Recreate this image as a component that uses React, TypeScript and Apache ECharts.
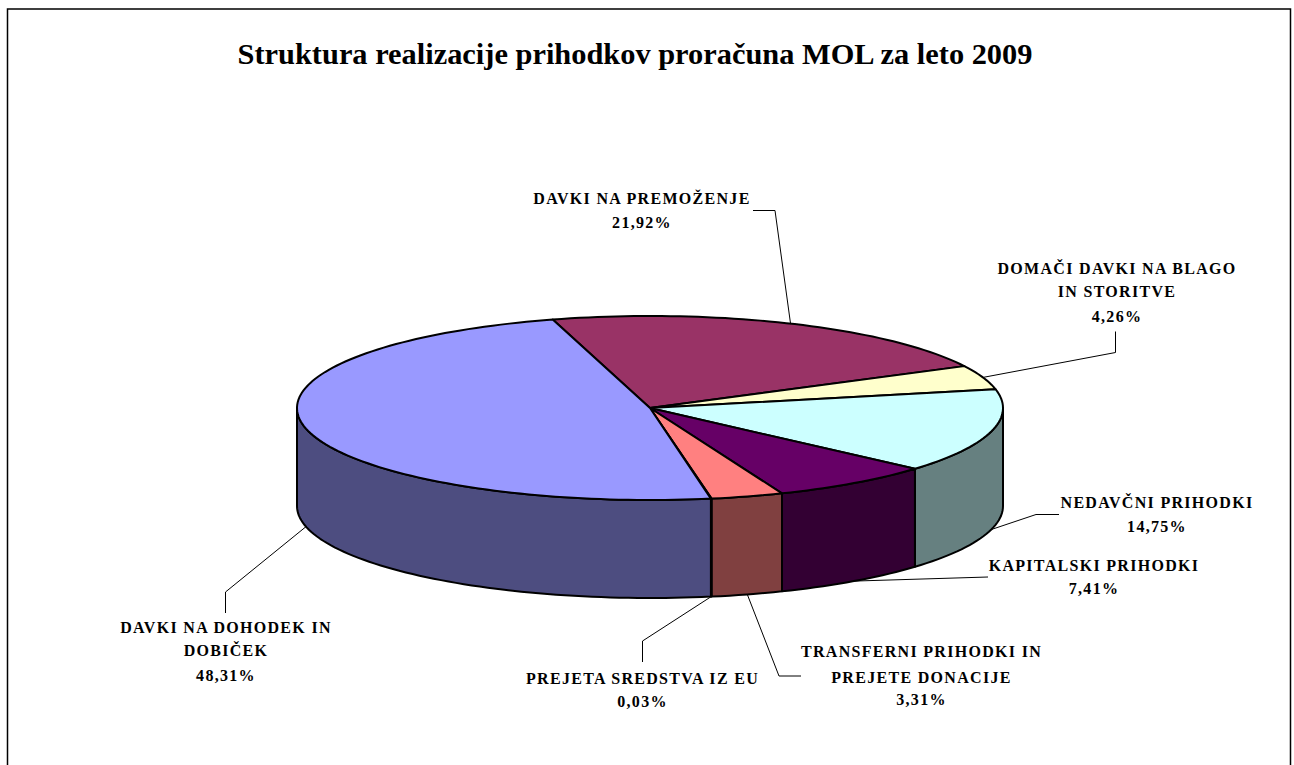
import React, { useEffect, useRef } from "react";
import * as echarts from "echarts";

const chartTitle = "Struktura realizacije prihodkov proračuna MOL za leto 2009";
const categories = [
  "DAVKI NA PREMOŽENJE",
  "DOMAČI DAVKI NA BLAGO\nIN STORITVE",
  "NEDAVČNI PRIHODKI",
  "KAPITALSKI PRIHODKI",
  "TRANSFERNI PRIHODKI IN\nPREJETE DONACIJE",
  "PREJETA SREDSTVA IZ EU",
  "DAVKI NA DOHODEK IN\nDOBIČEK",
];
const shares = [21.92, 4.26, 14.75, 7.41, 3.31, 0.03, 48.31];
const topColors = ["#993366", "#FFFFCC", "#CCFFFF", "#660066", "#FF8080", "#0066CC", "#9999FF"];

// Layout only: ellipse projection of the pie and where each label sits.
const PIE = { cx: 650, cy: 408, rx: 353, ry: 92, depth: 98, startDeg: 106 };
const labelCx = [642, 1117, 1157, 1094, 921.5, 642.5, 226];
const labelYs = [
  [198, 222],
  [268, 291, 316],
  [502, 526],
  [565, 588],
  [651, 677, 699],
  [678, 701],
  [627, 650, 675],
];
// Elbows of the leader lines; the end on the pie comes from the slice's mid angle.
const leaderElbows: number[][][] = [
  [[775, 210.5], [753, 210.5]],
  [[1115.5, 352.5], [1115.5, 331.5]],
  [[1036, 514.5], [1059, 514.5]],
  [[988, 577]],
  [[779, 676], [801, 676]],
  [[642.5, 641], [642.5, 662]],
  [[225.5, 592], [225.5, 613]],
];

const total = shares.reduce((a, b) => a + b, 0);
const spans = (() => {
  let a = PIE.startDeg;
  return shares.map((s) => {
    const b = a - (s / total) * 360;
    const r = [a, b];
    a = b;
    return r;
  });
})();

const pt = (deg: number, drop = 0) => {
  const t = (deg * Math.PI) / 180;
  return [PIE.cx + PIE.rx * Math.cos(t), PIE.cy - PIE.ry * Math.sin(t) + drop];
};
const arc = (from: number, to: number, drop = 0) => {
  const n = Math.max(2, Math.ceil(Math.abs(from - to) / 1.5));
  const out: number[][] = [];
  for (let i = 0; i <= n; i++) out.push(pt(from + ((to - from) * i) / n, drop));
  return out;
};
const halve = (hex: string) =>
  "#" +
  [1, 3, 5]
    .map((i) => Math.round(parseInt(hex.slice(i, i + 2), 16) / 2).toString(16).padStart(2, "0"))
    .join("");
const frontRange = (a: number, b: number) => {
  // portion of a (clockwise) slice inside the near half, -180..0 degrees
  const from = Math.min(a, 0);
  const to = Math.max(b, -180);
  return from > to ? [from, to] : null;
};

const pctText = (v: number) => v.toFixed(2).replace(".", ",") + "%";
const LABEL_FONT = 'bold 16px "Liberation Serif", "Times New Roman", serif';
const sliceStroke = { stroke: "#000", lineWidth: 2, lineJoin: "round" };

export default function App() {
  const ref = useRef<HTMLDivElement>(null);
  useEffect(() => {
    document.body.style.margin = "0";
    const chart = echarts.init(ref.current!, null, { renderer: "svg" });
    const indices = shares.map((_, i) => i);
    chart.setOption({
      animation: false,
      backgroundColor: "#fff",
      title: {
        text: chartTitle,
        left: 630,
        top: 34,
        textAlign: "center",
        textStyle: {
          fontFamily: '"Liberation Serif", "Times New Roman", serif',
          fontWeight: "bold",
          fontSize: 30.4,
          color: "#000",
        },
      },
      graphic: [
        {
          type: "polyline",
          silent: true,
          shape: { points: [[7.5, 765], [7.5, 9], [1290.5, 9], [1290.5, 765]] },
          style: { stroke: "#000", lineWidth: 1.5, fill: "none" },
        },
      ],
      series: [
        {
          type: "custom",
          coordinateSystem: "none",
          silent: true,
          clip: false,
          z: 2,
          data: indices,
          renderItem: (p: any) => {
            const i = p.dataIndex;
            const range = frontRange(spans[i][0], spans[i][1]);
            if (!range) return { type: "group", children: [] };
            const upper = arc(range[0], range[1]);
            const lower = arc(range[1], range[0], PIE.depth);
            return {
              type: "polygon",
              shape: { points: [...upper, ...lower] },
              style: { fill: halve(topColors[i]), ...sliceStroke },
            };
          },
        },
        {
          type: "custom",
          coordinateSystem: "none",
          silent: true,
          clip: false,
          z: 3,
          data: indices,
          renderItem: (p: any) => {
            const i = p.dataIndex;
            return {
              type: "polygon",
              shape: { points: [[PIE.cx, PIE.cy], ...arc(spans[i][0], spans[i][1])] },
              style: { fill: topColors[i], ...sliceStroke },
            };
          },
        },
        {
          type: "custom",
          coordinateSystem: "none",
          silent: true,
          clip: false,
          z: 4,
          data: indices,
          renderItem: (p: any) => {
            const i = p.dataIndex;
            const mid = (spans[i][0] + spans[i][1]) / 2;
            const s = Math.sin((mid * Math.PI) / 180);
            const anchor = pt(mid, s < 0 ? PIE.depth : 0);
            const lines = [...categories[i].split("\n"), pctText(shares[i])];
            return {
              type: "group",
              children: [
                {
                  type: "polyline",
                  shape: { points: [anchor, ...leaderElbows[i]] },
                  style: { stroke: "#000", lineWidth: 1, fill: "none" },
                },
                ...lines.map((text, k) => ({
                  type: "text",
                  style: {
                    text,
                    x: labelCx[i],
                    y: labelYs[i][k],
                    align: "center",
                    verticalAlign: "middle",
                    font: LABEL_FONT,
                    fill: "#000",
                  },
                })),
              ],
            };
          },
        },
      ],
    });
    // The original's labels are widely tracked; zrender has no letter-spacing option.
    ref.current!.querySelectorAll("text").forEach((t) => {
      if (String(t.textContent) !== chartTitle) (t as SVGTextElement).style.letterSpacing = "1.3px";
    });
    return () => chart.dispose();
  }, []);
  return (
    <div
      ref={ref}
      style={{ position: "fixed", left: 0, top: 0, width: 1294, height: 765 }}
    />
  );
}
